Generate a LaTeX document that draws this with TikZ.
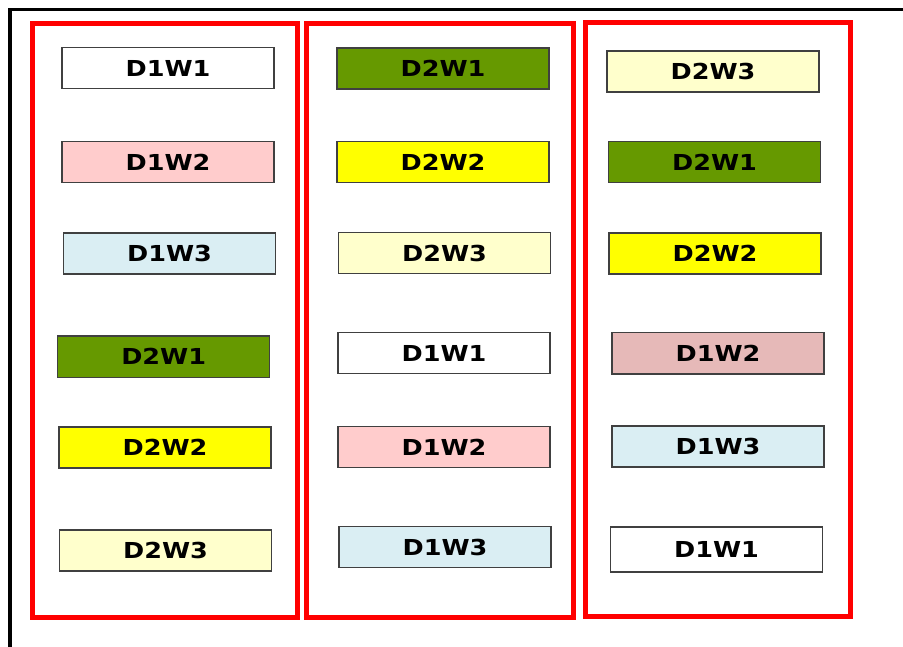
\documentclass[tikz,border=0pt]{standalone}
\usepackage{fontspec}
\newfontfamily\slotfont{DejaVu Sans}[FakeStretch=1.16]

\definecolor{wkgreen}{RGB}{102,153,0}
\definecolor{wkyellow}{RGB}{255,255,0}
\definecolor{wkcream}{RGB}{255,255,204}
\definecolor{wkpink}{RGB}{255,204,204}
\definecolor{wkrose}{RGB}{230,185,184}
\definecolor{wkblue}{RGB}{218,238,243}
\definecolor{wkedge}{RGB}{64,64,64}

\tikzset{
    slot/.style = {draw = wkedge, line width = 1.4pt, minimum width = 212pt,
                   minimum height = 41pt, inner sep = 0pt,
                   font = \slotfont\bfseries\fontsize{22}{24}\selectfont},
    lane/.style = {draw = red, line width = 5pt},
}

\begin{document}
\begin{tikzpicture}[x = 1pt, y = -1pt]
    \useasboundingbox (0, 0) rectangle (903, 647);

    % outer frame
    \draw [black, line width = 3.5pt] (10, 650) -- (10, 9.5) -- (906, 9.5);

    % lanes
    \draw [lane] (32.5, 23.5) rectangle (297.5, 617);
    \draw [lane] (306.5, 24)  rectangle (573, 617.5);
    \draw [lane] (585, 22.5)  rectangle (850, 616);

    % lane 1
    \node [slot, fill = white]    (a1) at (168, 68)      {D1W1};
    \node [slot, fill = wkpink]   (a2) at (168, 162)     {D1W2};
    \node [slot, fill = wkblue]   (a3) at (169.5, 253.5) {D1W3};
    \node [slot, fill = wkgreen]  (a4) at (163.7, 356.7) {D2W1};
    \node [slot, fill = wkyellow] (a5) at (165, 447.5)   {D2W2};
    \node [slot, fill = wkcream]  (a6) at (165.5, 550.5) {D2W3};

    % lane 2
    \node [slot, fill = wkgreen]  (b1) at (443, 68.5)    {D2W1};
    \node [slot, fill = wkyellow] (b2) at (443, 162)     {D2W2};
    \node [slot, fill = wkcream]  (b3) at (444.5, 253)   {D2W3};
    \node [slot, fill = white]    (b4) at (444, 353)     {D1W1};
    \node [slot, fill = wkpink]   (b5) at (444, 447)     {D1W2};
    \node [slot, fill = wkblue]   (b6) at (445, 547)     {D1W3};

    % lane 3
    \node [slot, fill = wkcream]  (c1) at (713, 71.5)    {D2W3};
    \node [slot, fill = wkgreen]  (c2) at (714.5, 162)   {D2W1};
    \node [slot, fill = wkyellow] (c3) at (715, 253.5)   {D2W2};
    \node [slot, fill = wkrose]   (c4) at (718, 353.3)   {D1W2};
    \node [slot, fill = wkblue]   (c5) at (718, 446.5)   {D1W3};
    \node [slot, fill = white, minimum height = 45pt] (c6) at (716.5, 549.5) {D1W1};

\end{tikzpicture}
\end{document}
